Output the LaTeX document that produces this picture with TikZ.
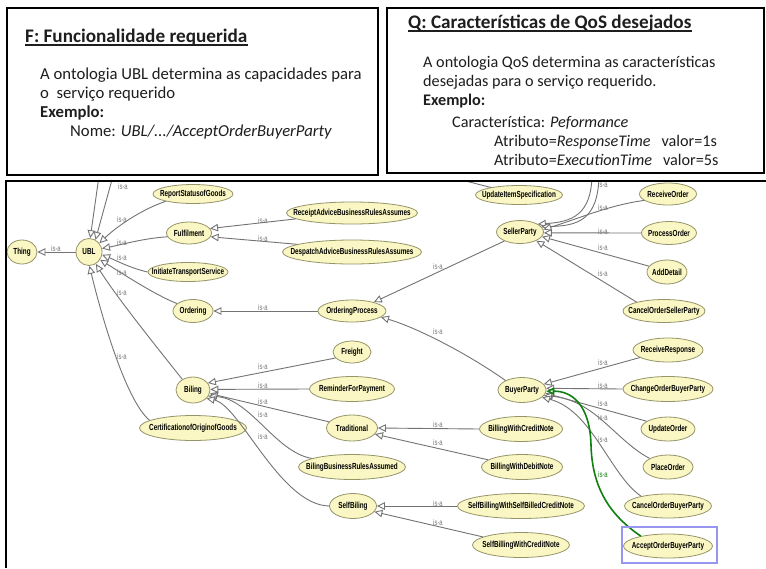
\documentclass[tikz,border=0pt]{standalone}
\usepackage{fontspec}
\setmainfont{Carlito}
\newfontfamily\owlfont{Liberation Sans}[FakeStretch=0.72]
\usetikzlibrary{shapes.geometric,arrows.meta}

\definecolor{clsfill}{RGB}{250,247,196}
\definecolor{clsline}{RGB}{150,148,105}
\definecolor{edgegray}{RGB}{115,115,115}
\definecolor{lblgray}{RGB}{120,120,120}
\definecolor{isagreen}{RGB}{16,128,16}
\definecolor{selblue}{RGB}{150,150,240}
\definecolor{ink}{RGB}{30,30,30}

% class names are set in a zero-width box so the ellipse size comes from the style
\newcommand\owlcls[1]{\makebox[0pt]{#1}}

\tikzset{
  panel/.style={draw=black, line width=2pt},
  txt/.style={inner sep=0pt, anchor=base west, text=ink},
  ttl/.style={txt, font=\bfseries\fontsize{19.2}{22}\selectfont},
  bodyF/.style={txt, font=\fontsize{16.7}{19}\selectfont},
  bodyQ/.style={txt, font=\fontsize{16.2}{19}\selectfont},
  cls/.style={ellipse, draw=clsline, fill=clsfill, line width=0.8pt, inner sep=0pt,
              font=\owlfont\bfseries\fontsize{8.8}{9}\selectfont},
  isa/.style={draw=edgegray, line width=0.9pt,
              -{Triangle[length=8pt,width=7.5pt,fill=white]}},
  plain/.style={draw=edgegray, line width=0.9pt},
  isagr/.style={draw=isagreen, line width=1.6pt,
              -{Triangle[length=8pt,width=7.5pt,fill=white]}},
  isalbl/.style={font=\owlfont\fontsize{8.2}{9}\selectfont, text=lblgray, inner sep=0pt},
  isalblgr/.style={isalbl, text=isagreen},
}

\begin{document}
\begin{tikzpicture}[x=1pt,y=-1pt]
\useasboundingbox (0,0) rectangle (766,568);
\fill[white] (0,0) rectangle (766,568);

% ---- F panel ----
\draw[panel] (7,8) rectangle (378,175);
\node[ttl] (ftitle) at (25,42) {F: Funcionalidade requerida};
\draw[ink, line width=1.2pt] ([yshift=-3pt]ftitle.base west) -- ([yshift=-3pt]ftitle.base east);
\node[bodyF] (f1) at (40,79) {A ontologia UBL determina as capacidades para};
\node[bodyF] (f2) at (40,98) {o\ \ serviço requerido};
\node[bodyF] (f3) at (40,117) {\bfseries Exemplo:};
\node[bodyF] (f4) at (70,136) {Nome: \textit{UBL/.../AcceptOrderBuyerParty}};

% ---- Q panel ----
\draw[panel] (387,8) rectangle (764,173);
\node[ttl] (qtitle) at (408,28) {Q: Características de QoS desejados};
\draw[ink, line width=1.2pt] ([yshift=-3pt]qtitle.base west) -- ([yshift=-3pt]qtitle.base east);
\node[bodyQ] (q1) at (423,67) {A ontologia QoS determina as características};
\node[bodyQ] (q2) at (423,86) {desejadas para o serviço requerido.};
\node[bodyQ] (q3) at (423,105) {\bfseries Exemplo:};
\node[bodyQ] (q4) at (452,127) {Característica: \textit{Peformance}};
\node[bodyQ] (q5) at (494,146) {Atributo=\textit{ResponseTime}\ \ \ valor=1s};
\node[bodyQ] (q6) at (494,165) {Atributo=\textit{ExecutionTime}\ \ \ valor=5s};

% ---- ontology graph frame ----
\draw[black, line width=2pt] (6,568) -- (6,181) -- (766,181);

\begin{scope}
\clip (7,182) rectangle (766,568);

% classes
\node[cls, minimum width=30, minimum height=24] (thing) at (22,252) {\owlcls{Thing}};
\node[cls, minimum width=26, minimum height=27] (ubl) at (89,252) {\owlcls{UBL}};
\node[cls, minimum width=80, minimum height=19] (rsg) at (193,194) {\owlcls{ReportStatusofGoods}};
\node[cls, minimum width=45, minimum height=22] (ful) at (189,233) {\owlcls{Fulfilment}};
\node[cls, minimum width=80, minimum height=19] (its) at (188,272) {\owlcls{InitiateTransportService}};
\node[cls, minimum width=40, minimum height=23] (ord) at (193,311) {\owlcls{Ordering}};
\node[cls, minimum width=34, minimum height=26] (bil) at (193,390) {\owlcls{Biling}};
\node[cls, minimum width=107, minimum height=25] (cert) at (193,428) {\owlcls{CertificationofOriginofGoods}};
\node[cls, minimum width=131, minimum height=22] (ra) at (352,213) {\owlcls{ReceiptAdviceBusinessRulesAssumes}};
\node[cls, minimum width=139, minimum height=24] (da) at (352,252) {\owlcls{DespatchAdviceBusinessRulesAssumes}};
\node[cls, minimum width=68, minimum height=22] (op) at (352,311) {\owlcls{OrderingProcess}};
\node[cls, minimum width=38, minimum height=22] (fr) at (352,352) {\owlcls{Freight}};
\node[cls, minimum width=85, minimum height=25] (rfp) at (352,389) {\owlcls{ReminderForPayment}};
\node[cls, minimum width=51, minimum height=26] (tr) at (352,428) {\owlcls{Traditional}};
\node[cls, minimum width=107, minimum height=25] (bbra) at (352,467) {\owlcls{BilingBusinessRulesAssumed}};
\node[cls, minimum width=47, minimum height=25] (sb) at (353,506) {\owlcls{SelfBiling}};
\node[cls, minimum width=87, minimum height=19] (uis) at (519,195) {\owlcls{UpdateItemSpecification}};
\node[cls, minimum width=47, minimum height=23] (sp) at (520,232) {\owlcls{SellerParty}};
\node[cls, minimum width=48, minimum height=25] (bp) at (522,390) {\owlcls{BuyerParty}};
\node[cls, minimum width=83, minimum height=25] (bwcn) at (521,429) {\owlcls{BillingWithCreditNote}};
\node[cls, minimum width=81, minimum height=25] (bwdn) at (522,467) {\owlcls{BillingWithDebitNote}};
\node[cls, minimum width=127, minimum height=25] (sbsb) at (521,506) {\owlcls{SelfBillingWithSelfBilledCreditNote}};
\node[cls, minimum width=97, minimum height=25] (sbcn) at (521,545) {\owlcls{SelfBillingWithCreditNote}};
\node[cls, minimum width=57, minimum height=22] (ro) at (668,194) {\owlcls{ReceiveOrder}};
\node[cls, minimum width=55, minimum height=23] (po) at (669,233) {\owlcls{ProcessOrder}};
\node[cls, minimum width=40, minimum height=24] (ad) at (667,272) {\owlcls{AddDetail}};
\node[cls, minimum width=82, minimum height=23] (cosp) at (664,311) {\owlcls{CancelOrderSellerParty}};
\node[cls, minimum width=70, minimum height=24] (rr) at (668,350) {\owlcls{ReceiveResponse}};
\node[cls, minimum width=90, minimum height=25] (cobp) at (668,389) {\owlcls{ChangeOrderBuyerParty}};
\node[cls, minimum width=54, minimum height=24] (uo) at (668,429) {\owlcls{UpdateOrder}};
\node[cls, minimum width=50, minimum height=24] (pl) at (668,467) {\owlcls{PlaceOrder}};
\node[cls, minimum width=87, minimum height=24] (cnbp) at (668,506) {\owlcls{CancelOrderBuyerParty}};
\node[cls, minimum width=89, minimum height=24] (aobp) at (668,546) {\owlcls{AcceptOrderBuyerParty}};

% parents lying above the visible part of the graph
\coordinate (ut1) at (99,176);
\coordinate (ut2) at (113,176);
\coordinate (ut3) at (450,177);
\coordinate (st1) at (592,176);
\coordinate (st2) at (599,176);

% is-a edges into UBL and Thing
\draw[isa] (ubl) -- (thing);
\draw[isa] (ut1) -- (ubl.85);
\draw[isa] (ut2) -- (ubl.62);
\draw[isa] (rsg.195) .. controls (140,210) and (115,228) .. (ubl.40);
\draw[isa] (ful.190) .. controls (145,238) and (120,245) .. (ubl.15);
\draw[isa] (its.west) .. controls (130,268) and (115,260) .. (ubl.-12);
\draw[isa] (ord.155) .. controls (155,295) and (120,272) .. (ubl.-35);
\draw[isa] (bil.135) .. controls (155,345) and (115,295) .. (ubl.-60);
\draw[isa] (cert.170) .. controls (125,400) and (100,310) .. (ubl.-88);

% Fulfilment
\draw[isa] (ra.186) -- (ful.12);
\draw[isa] (da.172) -- (ful.-10);

% Ordering / OrderingProcess
\draw[isa] (op.west) -- (ord.east);
\draw[isa] (sp.210) -- (op.22);
\draw[isa] (bp.150) .. controls (465,352) and (415,327) .. (op.-12);

% Biling
\draw[isa] (fr.200) -- (bil.25);
\draw[isa] (rfp.west) -- (bil.2);
\draw[isa] (tr.165) -- (bil.-12);
\draw[isa] (bbra.168) .. controls (275,452) and (250,398) .. (bil.-22);
\draw[isa] (sb.west) .. controls (280,505) and (240,405) .. (bil.-32);

% Traditional, SelfBiling
\draw[isa] (bwcn.west) -- (tr.east);
\draw[isa] (bwdn.168) -- (tr.-15);
\draw[isa] (sbsb.west) -- (sb.east);
\draw[isa] (sbcn.168) -- (sb.-15);

% SellerParty
\draw[plain] (uis.165) -- (ut3);
\draw[isa] (st1) .. controls (591,215) and (572,222) .. (sp.24);
\draw[isa] (st2) .. controls (598,220) and (578,226) .. (sp.14);
\draw[isa] (ro.195) .. controls (610,205) and (580,218) .. (sp.6);
\draw[isa] (po.west) -- (sp.-2);
\draw[isa] (ad.162) -- (sp.-12);
\draw[isa] (cosp.162) -- (sp.-28);

% BuyerParty
\draw[isa] (rr.195) -- (bp.15);
\draw[isa] (cobp.west) -- (bp.4);
\draw[isa] (uo.160) -- (bp.-8);
\draw[isa] (pl.155) .. controls (615,440) and (595,400) .. (bp.-14);
\draw[isa] (cnbp.160) .. controls (610,475) and (592,410) .. (bp.-20);
\draw[isagr] (aobp.160) .. controls (605,512) and (592,482) .. (591,445)
             .. controls (590,405) and (572,391) .. (bp.-3);

% selection frame
\draw[selblue, line width=2.2pt] ([shift={(-46,-19)}]aobp.center) rectangle ([shift={(49,17)}]aobp.center);

% edge labels
\node[isalbl] (l01) at (56,249) {is-a};
\node[isalbl] (l02) at (123,187) {is-a};
\node[isalbl] (l03) at (122,220) {is-a};
\node[isalbl] (l04) at (122,243) {is-a};
\node[isalbl] (l05) at (122,258) {is-a};
\node[isalbl] (l06) at (122,273) {is-a};
\node[isalbl] (l07) at (122,293) {is-a};
\node[isalbl] (l08) at (122,357) {is-a};
\node[isalbl] (l09) at (263,221) {is-a};
\node[isalbl] (l10) at (263,239) {is-a};
\node[isalbl] (l11) at (263,308) {is-a};
\node[isalbl] (l12) at (263,367) {is-a};
\node[isalbl] (l13) at (263,386) {is-a};
\node[isalbl] (l14) at (263,402) {is-a};
\node[isalbl] (l15) at (263,415) {is-a};
\node[isalbl] (l16) at (263,437) {is-a};
\node[isalbl] (l17) at (438,267) {is-a};
\node[isalbl] (l18) at (438,332) {is-a};
\node[isalbl] (l19) at (438,425) {is-a};
\node[isalbl] (l20) at (438,443) {is-a};
\node[isalbl] (l21) at (438,504) {is-a};
\node[isalbl] (l22) at (438,523) {is-a};
\node[isalbl] (l23) at (603,185) {is-a};
\node[isalbl] (l24) at (603,208) {is-a};
\node[isalbl] (l25) at (603,232) {is-a};
\node[isalbl] (l26) at (603,248) {is-a};
\node[isalbl] (l27) at (603,274) {is-a};
\node[isalbl] (l28) at (603,363) {is-a};
\node[isalbl] (l29) at (603,386) {is-a};
\node[isalbl] (l30) at (603,404) {is-a};
\node[isalbl] (l31) at (603,418) {is-a};
\node[isalbl] (l32) at (603,440) {is-a};
\node[isalblgr] (l33) at (603,475) {is-a};
\end{scope}
\end{tikzpicture}
\end{document}
